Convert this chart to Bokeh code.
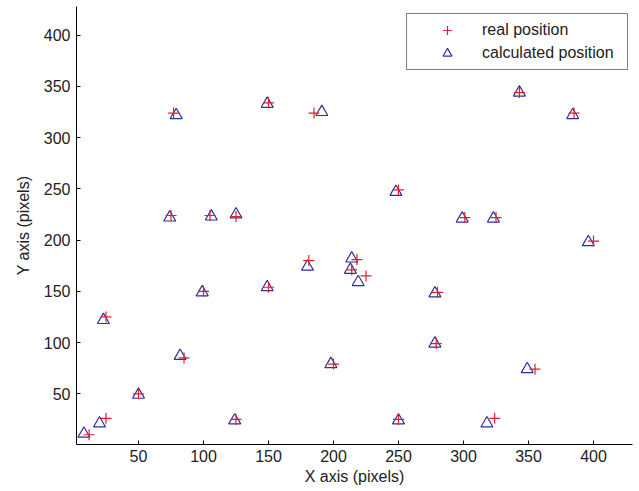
from bokeh.plotting import figure
from bokeh.models import Range1d, FixedTicker, Legend, LegendItem, ColumnDataSource
from bokeh.embed import file_html
from bokeh.resources import INLINE

# data
real_x = [12, 25, 25, 50, 85, 125, 100, 150, 181, 75, 105, 125, 77, 150, 185,
          200, 218, 214, 225, 250, 250, 280, 279, 301, 325, 324, 343, 385, 355, 400]
real_y = [10, 26, 125, 50, 85, 25, 150, 154, 180, 224, 224, 223, 324, 334, 324,
          79, 181, 171, 165, 249, 25, 149, 99, 222, 222, 26, 344, 324, 74, 199]
calc_x = [8, 20, 23, 50, 82, 124, 99, 149, 180, 74, 106, 125, 79, 149, 191,
          198, 214, 213, 219, 248, 250, 278, 278, 299, 323, 318, 343, 384, 349, 396]
calc_y = [11, 21, 122, 49, 87, 24, 149, 154, 174, 222, 223, 225, 322, 333, 325,
          79, 182, 171, 159, 247, 24, 148, 99, 221, 221, 21, 344, 322, 74, 198]
x_ticks = [50, 100, 150, 200, 250, 300, 350, 400]
y_ticks = [50, 100, 150, 200, 250, 300, 350, 400]

FONT = "Liberation Sans"
TXT = "#222222"

p = figure(width=636, height=489, output_backend="svg", toolbar_location=None,
           x_range=Range1d(2.3, 430.0), y_range=Range1d(0.5, 428.0),
           min_border_left=76, min_border_right=4, min_border_top=6,
           min_border_bottom=45)
p.outline_line_color = None
p.xgrid.visible = False
p.ygrid.visible = False
p.background_fill_color = "white"
p.border_fill_color = "white"

calc_src = ColumnDataSource(dict(x=calc_x, y=calc_y))
real_src = ColumnDataSource(dict(x=real_x, y=real_y))
r_calc = p.scatter("x", "y", source=calc_src, marker="triangle", size=12,
                   fill_color=None, line_color="#2f2fa0", line_width=1.2)
r_real = p.scatter("x", "y", source=real_src, marker="cross", size=11,
                   line_color="#e0202c", line_width=1.2)

for ax in (p.xaxis[0], p.yaxis[0]):
    ax.axis_line_color = "black"
    ax.axis_line_width = 1
    ax.major_tick_line_color = "black"
    ax.major_tick_in = 4
    ax.major_tick_out = 0
    ax.minor_tick_line_color = None
    ax.major_label_text_font = FONT
    ax.major_label_text_font_size = "16px"
    ax.major_label_text_color = TXT
    ax.axis_label_text_font = FONT
    ax.axis_label_text_font_size = "16px"
    ax.axis_label_text_font_style = "normal"
    ax.axis_label_text_color = TXT

p.xaxis.ticker = FixedTicker(ticks=x_ticks)
p.yaxis.ticker = FixedTicker(ticks=y_ticks)
p.xaxis.axis_label = "X axis (pixels)"
p.yaxis.axis_label = "Y axis (pixels)"
p.xaxis.major_label_standoff = 5
p.xaxis.axis_label_standoff = 3
p.yaxis.major_label_standoff = 6
p.yaxis.axis_label_standoff = 9

legend = Legend(items=[LegendItem(label="real position", renderers=[r_real]),
                       LegendItem(label="calculated position", renderers=[r_calc])],
                location=(330, 374), margin=0, padding=5, spacing=1,
                glyph_width=70, glyph_height=22, label_height=20, label_width=140,
                label_standoff=0, label_text_font=FONT, label_text_font_size="16px",
                label_text_color=TXT, border_line_color="black", border_line_width=1,
                background_fill_color="white", background_fill_alpha=1)
p.add_layout(legend)

open("out.html", "w").write(file_html(p, INLINE))
